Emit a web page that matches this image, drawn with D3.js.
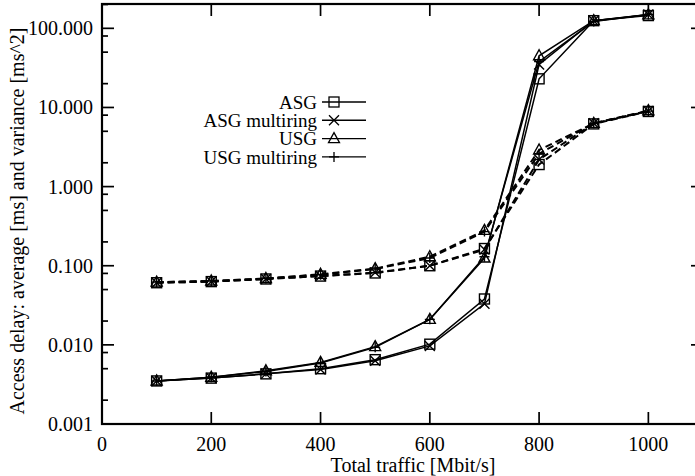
<!DOCTYPE html>
<html><head><meta charset="utf-8">
<script src="https://cdn.jsdelivr.net/npm/d3@7"></script>
<style>body{margin:0;background:#fff}svg{display:block}text{font-family:"Liberation Serif","Times New Roman",serif;fill:#000}</style>
</head><body><div id="c"></div>
<script>
const traffic = [100,200,300,400,500,600,700,800,900,1000];
const asgAvg   = [0.0035,0.0038,0.0043,0.0050,0.0065,0.0102,0.038,23,125,145];
const asgMrAvg = [0.0035,0.0038,0.0043,0.0049,0.0063,0.0097,0.033,35,125,150];
const usgAvg   = [0.0035,0.0039,0.0047,0.0060,0.0095,0.021,0.125,45,125,148];
const usgMrAvg = [0.0035,0.0039,0.0046,0.0059,0.0093,0.021,0.13,38,122,150];
const asgVar   = [0.061,0.063,0.068,0.074,0.081,0.100,0.165,1.9,6.2,8.9];
const asgMrVar = [0.061,0.063,0.068,0.074,0.082,0.100,0.160,2.2,6.3,9.0];
const usgVar   = [0.062,0.064,0.069,0.078,0.092,0.130,0.280,2.9,6.3,9.1];
const usgMrVar = [0.062,0.064,0.069,0.077,0.091,0.125,0.270,2.6,6.3,9.0];
const xTicks = [0,200,400,600,800,1000];
const yTicks = [0.001,0.01,0.1,1,10,100];
const legendNames = ["ASG","ASG multiring","USG","USG multiring"];
const markerTypes = ["square","cross","triangle","plus"];

const W=695,H=476;
const svg=d3.select("#c").append("svg").attr("width",W).attr("height",H);
const L=102,R=703,T=4,B=424;
const x=d3.scaleLinear().domain([0,1100]).range([L,R]);
const y=d3.scaleLog().domain([0.001,203]).range([B,T]);
const FS=20;

// frame
svg.append("rect").attr("x",L).attr("y",T).attr("width",R-L).attr("height",B-T)
  .attr("fill","none").attr("stroke","#000").attr("stroke-width",2.2);

// ticks
const minor=[];
for(let k=-3;k<=2;k++){[2,5,8].forEach(m=>{const v=m*Math.pow(10,k); if(v<=203) minor.push(v);});}
const tg=svg.append("g").attr("stroke","#000").attr("stroke-width",1.7);
yTicks.forEach(v=>{
  tg.append("line").attr("x1",L).attr("x2",L+12).attr("y1",y(v)).attr("y2",y(v));
  tg.append("line").attr("x1",R).attr("x2",R-12).attr("y1",y(v)).attr("y2",y(v));
});
minor.forEach(v=>{
  tg.append("line").attr("x1",L).attr("x2",L+6).attr("y1",y(v)).attr("y2",y(v));
  tg.append("line").attr("x1",R).attr("x2",R-6).attr("y1",y(v)).attr("y2",y(v));
});
xTicks.forEach(v=>{
  tg.append("line").attr("x1",x(v)).attr("x2",x(v)).attr("y1",B).attr("y2",B-12);
  tg.append("line").attr("x1",x(v)).attr("x2",x(v)).attr("y1",T).attr("y2",T+12);
});
const fmt=d3.format(".3f");
yTicks.forEach(v=>{
  svg.append("text").attr("x",L-9).attr("y",y(v)).attr("dy","0.35em").attr("text-anchor","end")
    .attr("font-size",FS).text(fmt(v));
});
xTicks.forEach(v=>{
  svg.append("text").attr("x",x(v)).attr("y",B+27).attr("text-anchor","middle")
    .attr("font-size",FS).text(v);
});
svg.append("text").attr("x",413).attr("y",472).attr("text-anchor","middle").attr("font-size",FS)
  .text("Total traffic [Mbit/s]");
svg.append("text").attr("transform","translate(24,221) rotate(-90)").attr("text-anchor","middle")
  .attr("font-size",FS).text("Access delay: average [ms] and variance [ms^2]");

function marker(g,type,cx,cy){
  const s=5;
  if(type==="square") g.append("rect").attr("x",cx-s).attr("y",cy-s).attr("width",2*s).attr("height",2*s);
  else if(type==="cross") g.append("path").attr("d",`M${cx-s},${cy-s}L${cx+s},${cy+s}M${cx-s},${cy+s}L${cx+s},${cy-s}`);
  else if(type==="triangle") g.append("path").attr("d",`M${cx},${cy-s-1}L${cx+s+0.5},${cy+s-1}L${cx-s-0.5},${cy+s-1}Z`);
  else g.append("path").attr("d",`M${cx-s},${cy}L${cx+s},${cy}M${cx},${cy-s}L${cx},${cy+s}`);
}
const line=d3.line().x((d,i)=>x(traffic[i])).y(d=>y(d));
const series=[
  {v:asgVar,m:"square",dash:true},{v:asgMrVar,m:"cross",dash:true},
  {v:usgVar,m:"triangle",dash:true},{v:usgMrVar,m:"plus",dash:true},
  {v:asgAvg,m:"square",dash:false},{v:asgMrAvg,m:"cross",dash:false},
  {v:usgAvg,m:"triangle",dash:false},{v:usgMrAvg,m:"plus",dash:false}
];
series.forEach(s=>{
  svg.append("path").attr("d",line(s.v)).attr("fill","none").attr("stroke","#000")
    .attr("stroke-width",s.dash?2:1.5).attr("stroke-dasharray",s.dash?"7,4":null);
  const g=svg.append("g").attr("fill","none").attr("stroke","#000").attr("stroke-width",1.4);
  s.v.forEach((d,i)=>marker(g,s.m,x(traffic[i]),y(d)));
});

// legend
legendNames.forEach((n,i)=>{
  const ly=102+18.3*i;
  svg.append("text").attr("x",317).attr("y",ly).attr("dy","0.35em").attr("text-anchor","end")
    .attr("font-size",19).text(n);
  svg.append("line").attr("x1",322).attr("x2",366).attr("y1",ly).attr("y2",ly)
    .attr("stroke","#000").attr("stroke-width",1.4);
  const g=svg.append("g").attr("fill","none").attr("stroke","#000").attr("stroke-width",1.3);
  marker(g,markerTypes[i],334,ly);
});
</script></body></html>
